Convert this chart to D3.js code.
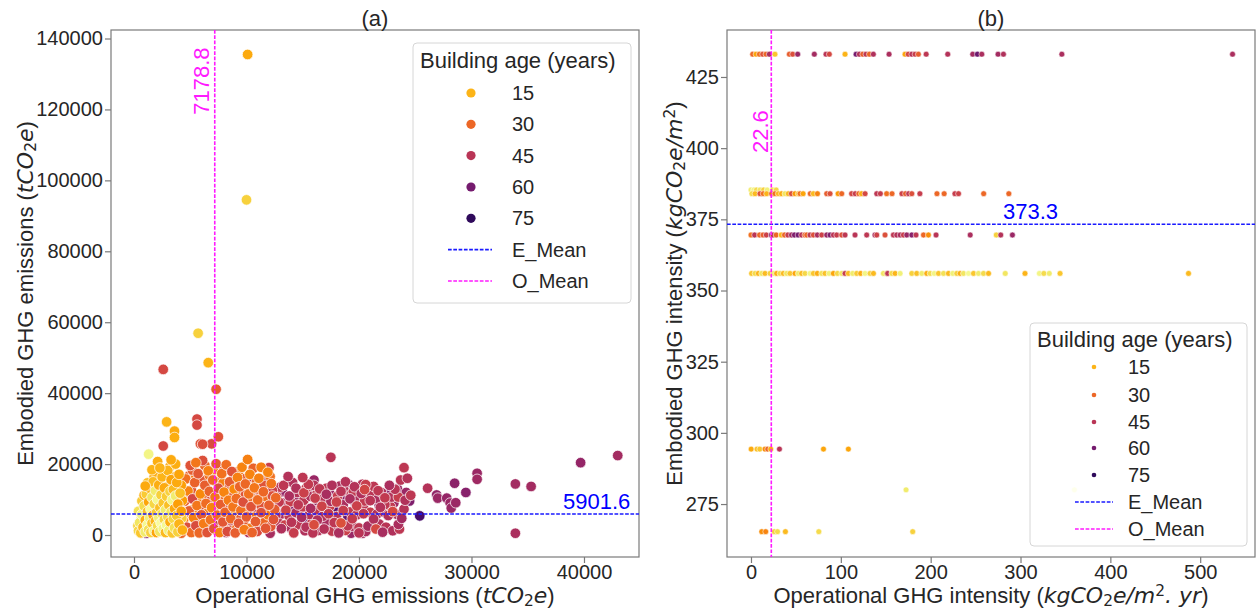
<!DOCTYPE html>
<html>
<head>
<meta charset="utf-8">
<script src="https://cdn.jsdelivr.net/npm/d3@7"></script>
<style>
body { margin: 0; background: #fff; }
svg text { font-family: "Liberation Sans", Arial, sans-serif; fill: #262626; }
</style>
</head>
<body>
<svg id="chart" width="1256" height="613"></svg>
<script>
// legend levels and reference values
const ageLevels = [15, 30, 45, 60, 75]
const meanNames = ["E_Mean", "O_Mean"]
const ticksAx = [0, 10000, 20000, 30000, 40000]
const ticksAy = [0, 20000, 40000, 60000, 80000, 100000, 120000, 140000]
const ticksBx = [0, 100, 200, 300, 400, 500]
const ticksBy = [275, 300, 325, 350, 375, 400, 425]
const opMeanA = 7178.8
const embMeanA = 5901.6
const opMeanB = 22.6
const embMeanB = 373.3

// panel (a): [operational tCO2e, embodied tCO2e, age]
const purpleA = [[500,2100,52],[700,900,55],[900,3000,50],[1100,500,58],[1300,1900,53],[1500,3200,51],[8900,3900,55],[10800,9000,58],[12400,3400,65],[13200,12200,53],[13800,7700,56],[14500,10600,52],[15300,4200,62],[15800,12700,51],[16400,9300,54],[17000,2100,58],[17400,11800,52],[18100,7500,66],[18600,10100,56],[19000,5300,64],[19300,500,52],[19700,8600,57],[20300,500,50],[20700,10900,55],[21300,4400,60],[21800,8300,53],[22400,11600,56],[23100,9000,51],[23400,13100,52],[24500,9600,58],[24200,12000,52],[25400,5400,70],[26900,11300,54],[27000,10400,52],[27800,10400,53],[28100,9000,52],[28200,7600,52],[28500,14600,55],[28600,9100,52],[29500,12000,56],[30500,17400,52],[30500,15700,51],[33900,14400,50],[35300,13700,50],[33900,500,48],[39700,20400,53],[43000,22400,50],[16000,15500,52],[19100,14200,51],[11700,13800,55],[7800,3500,55]]
const redA = [[7400,2900,44],[7600,9700,41],[7800,14300,47],[8000,5200,43],[8200,700,48],[8400,11900,40],[8700,2600,45],[8900,16200,42],[9100,7100,46],[9400,13800,49],[9700,4000,44],[9900,9600,41],[10200,700,47],[10400,14900,43],[10600,6100,45],[10900,11300,48],[11200,3100,42],[11500,15600,46],[11800,7700,44],[12100,500,49],[12300,12600,41],[12600,5700,46],[12900,9300,43],[13100,1800,47],[13300,14000,44],[13500,7000,40],[13800,11000,48],[14000,3600,45],[14200,600,42],[14400,13200,47],[14600,8500,44],[14900,5000,49],[15100,11900,41],[15300,2200,46],[15500,14300,43],[15700,7500,48],[15900,600,45],[16100,10400,42],[16300,4200,47],[16500,13000,44],[16700,8100,40],[16900,1700,46],[17100,11500,49],[17300,6000,43],[17500,21900,45],[17600,14000,47],[17800,3500,44],[18000,9300,41],[18200,600,48],[18400,12300,45],[18600,6900,42],[18800,15000,46],[19000,2600,44],[19200,10200,48],[19400,4600,43],[19600,13600,46],[19800,8200,41],[20000,600,45],[20200,11700,47],[20400,6000,44],[20600,14200,42],[20800,2500,49],[21000,9700,45],[21300,4500,47],[21500,1700,38],[21700,12500,44],[21900,7800,46],[22100,800,49],[22300,10500,43],[22600,5500,47],[23000,6600,38],[23200,12900,45],[23500,3000,48],[23700,15500,45],[24000,19000,44],[24300,16000,46],[23800,4700,50],[24600,11200,44],[26100,13200,46],[22700,14000,48],[13700,16500,46],[15000,16200,44],[12000,19000,41],[16000,2900,37],[18400,3400,36],[20500,12800,39]]
const redMoreA = [[12800,3700,45],[13400,2800,41],[14000,1800,48],[14600,2900,44],[15200,1200,47],[15800,3300,42],[16400,1300,46],[17000,3800,49],[17600,1100,43],[18200,2300,45],[18800,1300,41],[19400,2500,47],[20000,2000,44],[20600,1000,48],[21200,2700,42],[21800,3100,46],[22400,2200,45],[23000,1200,47],[23600,1700,44],[12600,8000,43],[13200,6000,47],[13800,5300,44],[14400,6300,48],[15000,7900,42],[15600,5800,46],[16200,6800,44],[16800,5300,47],[17400,8100,41],[18000,5200,45],[18600,8500,48],[19200,6500,43],[19800,5700,46],[20400,7900,44],[21000,6400,42],[21600,5900,47],[22200,6500,45],[22800,8000,43],[23400,5800,49],[24000,7300,46],[12700,10800,45],[13300,9000,48],[13900,9400,42],[14500,12000,46],[15100,9800,44],[15700,10900,47],[16300,12000,43],[16900,10500,45],[17500,9500,48],[18100,11000,42],[18700,12500,46],[19300,11400,44],[19900,10200,47],[20500,9600,43],[21100,11300,45],[21700,10200,48],[22300,8600,44],[22900,10700,46],[23500,10700,42],[24100,9800,47],[13000,13500,44],[14100,14800,47],[15300,13200,42],[16000,14000,46],[17100,13200,44],[18300,13800,48],[19500,12300,43],[20300,14300,46],[21300,13700,44],[22000,12000,47]]
const orangeA = [[4200,500,30],[4400,4000,26],[4500,9500,33],[4600,15800,28],[4700,2200,36],[4800,12400,24],[4900,6800,32],[5000,19600,35],[5100,700,29],[5200,10200,38],[5300,4900,25],[5400,14800,31],[5500,2600,37],[5600,8300,27],[5700,17300,34],[5800,600,30],[5900,11600,23],[6000,5700,33],[6100,21000,36],[6200,3200,26],[6300,14000,32],[6400,8900,29],[6500,700,35],[6600,18100,25],[6700,12300,31],[6800,4300,28],[6900,25700,37],[6900,7700,24],[7000,15500,30],[7100,1800,34],[7200,10700,27],[7300,20100,33],[7400,5600,29],[7500,13200,36],[7600,700,25],[7700,8600,32],[7800,17300,28],[7900,3700,34],[8000,12100,24],[8100,6400,31],[8200,19800,29],[8300,1000,37],[8400,9800,26],[8500,15000,33],[8600,4600,30],[8700,17900,35],[8800,7900,27],[8900,12900,23],[9000,600,32],[9100,10300,29],[9200,16200,25],[9300,3300,34],[9400,13600,31],[9500,6900,28],[9600,19100,24],[9700,9300,36],[9800,1500,26],[9900,14400,30],[10000,5100,33],[10100,21300,25],[10200,11600,28],[10300,17100,24],[10400,8000,35],[10500,700,31],[10700,13300,27],[10800,3800,33],[11000,9900,29],[11100,16000,25],[11300,6300,36],[11500,12200,30],[11700,1900,34],[11900,17700,24],[12000,8400,32],[12200,14500,27],[12400,4400,35],[12600,10500,30],[7500,27700,35],[7300,41100,33],[2600,46700,38],[5600,32700,38],[5600,31000,38],[2600,25100,38],[5900,25700,35],[6100,25600,36],[5500,20400,27]]
const orangeMoreA = [[4350,2900,32],[4950,1500,27],[5550,4000,34],[6150,1200,29],[6750,2500,36],[7350,1200,24],[7950,2200,31],[8550,1300,35],[9150,2000,28],[9750,3000,33],[10350,1900,26],[10950,1000,37],[11550,3500,30],[12150,2400,34],[4700,6000,30],[5300,7300,25],[5900,8000,35],[6500,6100,27],[7100,6600,33],[7700,5000,29],[8300,7800,37],[8900,5700,24],[9500,4700,32],[10100,6800,30],[10700,5000,28],[11300,8200,35],[11900,5700,26],[12500,7200,33],[4500,11000,28],[5100,12600,34],[5700,10400,26],[6300,11200,31],[6900,10000,37],[7500,11300,25],[8100,10500,30],[8700,11500,34],[9300,12300,27],[9900,11300,35],[10500,10300,29],[11100,12900,33],[11700,10800,28],[12300,11000,36],[4900,16700,31],[5500,16500,26],[6100,15400,34],[6700,16800,28],[7300,15000,32],[7900,14600,25],[8500,13700,36],[9100,14900,29],[9700,15900,33],[10300,13500,27],[10900,15000,30],[11500,14000,35],[12100,16500,28],[5200,18300,33],[6300,19600,30],[7100,18400,26],[8000,18300,34],[9300,18000,27],[10600,18800,31],[11300,19100,25]]
const youngA = [[400,1200,9],[500,3500,6],[600,600,12],[700,5800,3],[800,2200,14],[900,8200,8],[1000,900,5],[1000,4200,16],[1100,11500,11],[1200,2900,2],[1200,6600,13],[1300,1500,7],[1300,9300,18],[1400,4800,4],[1400,13200,15],[1500,700,10],[1500,7300,1],[1600,3300,12],[1600,10600,6],[1700,5600,17],[1700,15000,14],[1800,1200,3],[1800,8800,9],[1900,3900,15],[1900,12500,5],[2000,6300,11],[2000,700,18],[2100,10000,2],[2100,2600,8],[2200,14100,16],[2200,4900,4],[2300,7700,13],[2300,1000,6],[2400,11300,10],[2400,3400,1],[2500,16400,15],[2500,6000,7],[2600,9000,12],[2600,1800,3],[2700,13300,17],[2700,4400,9],[2800,7100,5],[2800,700,14],[2900,10900,11],[2900,2800,2],[3000,18200,15],[3000,5200,8],[3100,8400,13],[3100,1300,4],[3200,12300,10],[3200,3700,16],[3300,6500,6],[3300,15600,18],[3400,9900,3],[3400,600,12],[3500,4600,9],[3500,12800,14],[3600,7400,17],[3600,2000,7],[3700,11000,5],[3700,20000,16],[3800,5500,12],[3800,14800,17],[3900,900,10],[3900,8700,19],[4000,3100,15],[4000,17100,18],[4100,11800,13],[4200,6700,19],[4300,1400,16],[1300,22800,3],[2900,31900,15],[3600,29300,17],[3600,27500,16],[5700,56900,10],[6600,48600,15],[10100,135500,17],[10000,94500,10],[1000,13800,17],[2300,18900,15],[3300,21200,17]]
const youngMoreA = [[350,2600,10],[950,1700,4],[1550,2100,13],[2150,1500,7],[2750,2300,15],[3350,1800,9],[3950,2200,17],[650,4400,14],[1250,3800,8],[1850,4600,2],[2450,5300,12],[3050,4000,5],[3650,3600,16],[4250,4800,11],[400,6700,7],[1000,6000,13],[1600,7900,5],[2200,6800,10],[2800,5600,15],[3400,7400,3],[4000,6100,18],[700,9600,11],[1300,8100,6],[1900,9900,14],[2500,8500,4],[3100,10200,9],[3700,9200,16],[4300,9700,19],[900,11200,15],[1500,12000,9],[2100,11900,12],[2700,10700,6],[3300,11500,14],[3900,12600,17],[1200,14700,13],[1800,16500,16],[2400,14200,11],[3000,13700,15],[3600,16400,18],[4200,14000,19],[1600,18400,15],[2800,17000,17],[2100,20700,16],[3200,19300,17]]

// panel (b): embodied intensity rows, each [operational intensity, age]
const rowLevels = [433, 385.3, 384, 369.5, 356, 294.3, 280, 265.3]
const rowTop = [[1.9,30],[5.6,18],[9.3,28],[13,35],[16.7,30],[20.4,48],[26.7,12],[42.7,32],[46.4,36],[52,52],[70.5,50],[83.5,45],[87.2,38],[104.7,15],[117,60],[120.6,46],[124.4,32],[128,44],[131.8,30],[136.2,47],[153.7,48],[171.5,18],[175,38],[179,45],[182.6,42],[186.3,32],[195,44],[219,46],[246.8,50],[252,62],[256.9,48],[275,50],[281,47],[346,48],[536,48]]
const rowRaised = [[0,5],[3,3],[6,8],[10,6],[14,10],[18,4],[24,7],[28,9]]
const rowUpper = [[1,8],[4.5,14],[10,35],[13.6,28],[17.4,15],[23,30],[26.7,28],[30.4,14],[34,16],[37.8,6],[41.5,14],[45,36],[49,20],[52.7,12],[54.6,28],[58,18],[66,30],[69.4,14],[74,24],[84.3,32],[88,36],[97,20],[101,30],[112,38],[116,42],[120,30],[123,16],[127,38],[140,44],[144,42],[151,28],[157,30],[168,40],[172,32],[175.5,44],[179,36],[188,42],[207,30],[215,30],[227,42],[231,40],[259,30],[287,30]]
const rowMid = [[0,28],[4,45],[9.5,30],[13.4,32],[17,40],[22.7,55],[24.5,45],[28,30],[33.6,15],[37.3,30],[41,42],[45,50],[48.3,58],[52.4,60],[56.3,45],[60,32],[62,30],[65.7,44],[69.4,36],[73.8,48],[78.7,40],[84.3,52],[88,58],[91.7,45],[95.4,42],[101,36],[104.7,44],[115.8,45],[128.8,44],[138,48],[140,40],[149.2,36],[158.5,44],[162.2,46],[166,48],[169.6,42],[173.4,52],[179,56],[183.7,44],[192,30],[197.5,22],[206,45],[244,48],[273,10],[278,46],[291,52]]
const rowLow = [[0.7,12],[4.5,8],[8.2,15],[11.9,6],[15.6,14],[21.2,10],[24.9,4],[28.6,16],[32.3,8],[36,14],[39.7,6],[43.4,12],[49,18],[52.7,5],[56.4,14],[60.1,9],[65.7,3],[69.4,12],[73.8,16],[78.7,7],[82.4,13],[86.9,4],[91.7,18],[96.2,9],[101,6],[104.7,42],[108.4,14],[113.2,5],[117.7,11],[122.1,16],[126.9,3],[132.5,10],[136.3,14],[147.4,6],[151.1,12],[152.2,44],[156.7,8],[160.4,15],[166,4],[179,10],[184.5,13],[190.1,5],[195.7,16],[199.4,8],[203.9,3],[208.7,12],[214.3,7],[219.8,14],[224.6,4],[229.1,10],[232.8,16],[236.5,6],[242.1,2],[247.7,12],[253.2,5],[258.8,8],[264.4,14],[283,6],[305,15],[321,3],[326,8],[332,5],[344,12],[487,14]]
const row295 = [[0.2,17],[6.7,13],[9.8,12],[15.6,22],[18.6,30],[22,16],[31.7,45],[80.7,18],[108.4,18]]
const row280 = [[172.6,5],[360,1]]
const row265 = [[12,22],[16.4,24],[26,10],[29.5,8],[38.3,14],[75.5,8],[180,10]]

const svg = d3.select("#chart")
const color = age => d3.interpolateInferno(1 - age / 89)
const frameColor = "#7a7a7a"
const dash = "3.7,1.6"
const eColor = "#1a1aff"
const oColor = "#ff1aff"

// scales
const xA = d3.scaleLinear().domain([-2044, 44890]).range([111, 639])
const yA = d3.scaleLinear().domain([-6200, 142400]).range([557, 30])
const xB = d3.scaleLinear().domain([-26.7, 561]).range([727, 1255])
const yB = d3.scaleLinear().domain([256.4, 441.5]).range([557, 30])

// math-ish label with italic and sub/superscripts
let richText = (sel, parts) => {
    parts.forEach(p => {
        let ts = sel.append("tspan").text(p.t)
        if (p.it) ts.attr("font-style", "italic").attr("font-family", "DejaVu Sans")
        if (p.sub) ts.attr("font-size", "0.7em").attr("baseline-shift", "-20%").attr("font-family", "DejaVu Sans")
        if (p.sup) ts.attr("font-size", "0.7em").attr("baseline-shift", "45%").attr("font-family", "DejaVu Sans")
    })
}

let drawAxes = (x, y, tx, ty) => {
    let g = svg.append("g")
    let [x0, x1] = x.range()
    let [y1, y0] = y.range()
    let ax = g.append("g").attr("transform", `translate(0,${y1})`)
        .call(d3.axisBottom(x).tickValues(tx).tickSize(6).tickPadding(2).tickFormat(d3.format("d")))
    let ay = g.append("g").attr("transform", `translate(${x0},0)`)
        .call(d3.axisLeft(y).tickValues(ty).tickSize(6).tickPadding(2).tickFormat(d3.format("d")))
    ;[ax, ay].forEach(a => {
        a.select(".domain").remove()
        a.selectAll(".tick line").attr("stroke", frameColor).attr("stroke-width", 1.2)
        a.selectAll(".tick text").attr("font-size", 20).attr("fill", "#262626")
            .style("font-family", "'Liberation Sans', Arial, sans-serif")
    })
    g.append("rect").attr("x", x0).attr("y", y0).attr("width", x1 - x0).attr("height", y1 - y0)
        .attr("fill", "none").attr("stroke", frameColor).attr("stroke-width", 1.2)
}

let drawMeans = (x, y, clipId, ox, ey) => {
    let g = svg.append("g").attr("clip-path", `url(#${clipId})`)
    let [x0, x1] = x.range()
    let [y1, y0] = y.range()
    g.append("line").attr("x1", x0).attr("x2", x1).attr("y1", y(ey)).attr("y2", y(ey))
        .attr("stroke", eColor).attr("stroke-width", 1.5).attr("stroke-dasharray", dash)
    g.append("line").attr("x1", x(ox)).attr("x2", x(ox)).attr("y1", y0).attr("y2", y1)
        .attr("stroke", oColor).attr("stroke-width", 1.6).attr("stroke-dasharray", dash)
}

let addClip = (id, x, y) => {
    let [x0, x1] = x.range()
    let [y1, y0] = y.range()
    svg.append("clipPath").attr("id", id).append("rect")
        .attr("x", x0).attr("y", y0).attr("width", x1 - x0).attr("height", y1 - y0)
}

let drawLegend = (box, rows, rad) => {
    let g = svg.append("g")
    g.append("rect").attr("x", box.x).attr("y", box.y).attr("width", box.w).attr("height", box.h)
        .attr("rx", 4).attr("fill", "#fff").attr("fill-opacity", 0.8)
        .attr("stroke", "#d6d6d6").attr("stroke-width", 1)
    g.append("text").attr("x", box.tx).attr("y", box.ty).attr("font-size", 22).text("Building age (years)")
    ageLevels.forEach((a, i) => {
        let cy = rows[i]
        g.append("circle").attr("cx", box.mx).attr("cy", cy).attr("r", rad).attr("fill", color(a))
        g.append("text").attr("x", box.lx).attr("y", cy + 7).attr("font-size", 20).text(a)
    })
    meanNames.forEach((m, i) => {
        let cy = rows[ageLevels.length + i]
        g.append("line").attr("x1", box.l0).attr("x2", box.l1).attr("y1", cy).attr("y2", cy)
            .attr("stroke", i == 0 ? eColor : oColor).attr("stroke-width", 1.6).attr("stroke-dasharray", dash)
        g.append("text").attr("x", box.lx).attr("y", cy + 7).attr("font-size", 20).text(m)
    })
}

// ---------- panel (a) ----------
addClip("clipA", xA, yA)
drawAxes(xA, yA, ticksAx, ticksAy)
let ptsA = [...purpleA, ...redMoreA, ...redA, ...orangeMoreA, ...orangeA, ...youngMoreA, ...youngA]
svg.append("g").attr("clip-path", "url(#clipA)").selectAll("circle").data(ptsA).enter().append("circle")
    .attr("cx", d => xA(d[0])).attr("cy", d => yA(d[1])).attr("r", 5.3)
    .attr("fill", d => color(d[2])).attr("stroke", "#fff").attr("stroke-width", 0.8).attr("stroke-opacity", 0.9)
drawMeans(xA, yA, "clipA", opMeanA, embMeanA)
svg.append("text").attr("transform", `translate(${xA(opMeanA) - 6},${yA(140000) + 9}) rotate(-90)`)
    .attr("text-anchor", "end").attr("font-size", 22).style("fill", oColor).text(opMeanA.toFixed(1))
svg.append("text").attr("x", 563).attr("y", yA(embMeanA) - 5).attr("font-size", 22)
    .style("fill", "blue").text(embMeanA.toFixed(1))
svg.append("text").attr("x", 375).attr("y", 26).attr("text-anchor", "middle").attr("font-size", 22).text("(a)")
richText(svg.append("text").attr("x", 375).attr("y", 603).attr("text-anchor", "middle").attr("font-size", 22),
    [{ t: "Operational GHG emissions (" }, { t: "tCO", it: true }, { t: "2", sub: true }, { t: "e", it: true }, { t: ")" }])
richText(svg.append("text").attr("transform", "translate(33,293.5) rotate(-90)").attr("text-anchor", "middle").attr("font-size", 22),
    [{ t: "Embodied GHG emissions (" }, { t: "tCO", it: true }, { t: "2", sub: true }, { t: "e", it: true }, { t: ")" }])
drawLegend({ x: 413, y: 43, w: 218, h: 260, tx: 420, ty: 68, mx: 471, lx: 512, l0: 448, l1: 492 },
    [93, 124.3, 155.6, 187, 218.3, 249.6, 281], 4.6)

// ---------- panel (b) ----------
addClip("clipB", xB, yB)
drawAxes(xB, yB, ticksBx, ticksBy)
let rowsB = [rowTop, rowRaised, rowUpper, rowMid, rowLow, row295, row280, row265]
let ptsB = []
rowsB.forEach((r, i) => r.forEach(p => ptsB.push([p[0], rowLevels[i], p[1]])))
svg.append("g").attr("clip-path", "url(#clipB)").selectAll("circle").data(ptsB).enter().append("circle")
    .attr("cx", d => xB(d[0])).attr("cy", d => yB(d[1])).attr("r", 2.9)
    .attr("fill", d => color(d[2])).attr("stroke", "#fff").attr("stroke-width", 0.6).attr("stroke-opacity", 0.9)
drawMeans(xB, yB, "clipB", opMeanB, embMeanB)
svg.append("text").attr("transform", `translate(${xB(opMeanB) - 3},153) rotate(-90)`)
    .attr("font-size", 22).style("fill", oColor).text(opMeanB.toFixed(1))
svg.append("text").attr("x", 1003).attr("y", yB(embMeanB) - 5).attr("font-size", 22)
    .style("fill", "blue").text(embMeanB.toFixed(1))
svg.append("text").attr("x", 991).attr("y", 26).attr("text-anchor", "middle").attr("font-size", 22).text("(b)")
richText(svg.append("text").attr("x", 991).attr("y", 603).attr("text-anchor", "middle").attr("font-size", 22),
    [{ t: "Operational GHG intensity (" }, { t: "kgCO", it: true }, { t: "2", sub: true }, { t: "e/m", it: true }, { t: "2", sup: true }, { t: ". yr", it: true }, { t: ")" }])
richText(svg.append("text").attr("transform", "translate(682,293.5) rotate(-90)").attr("text-anchor", "middle").attr("font-size", 22),
    [{ t: "Embodied GHG intensity (" }, { t: "kgCO", it: true }, { t: "2", sub: true }, { t: "e/m", it: true }, { t: "2", sup: true }, { t: ")" }])
drawLegend({ x: 1030, y: 323, w: 217, h: 223, tx: 1037, ty: 347, mx: 1094, lx: 1128, l0: 1075, l1: 1113 },
    [367, 395, 422, 448, 475, 502, 529], 2.3)
</script>
</body>
</html>
